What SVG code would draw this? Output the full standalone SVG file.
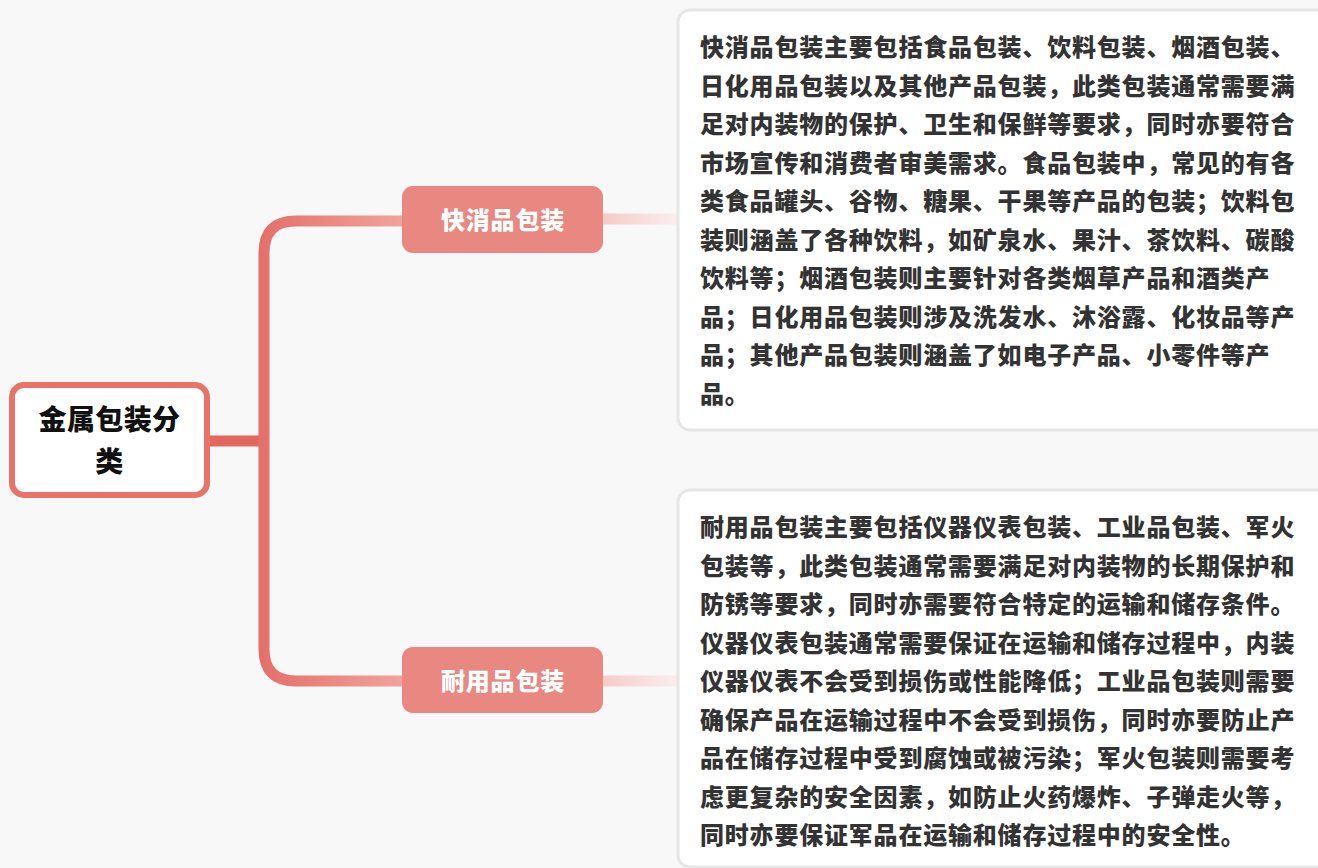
<svg xmlns="http://www.w3.org/2000/svg" width="1318" height="868" viewBox="0 0 1318 868">
<defs>
<linearGradient id="gTrunk" gradientUnits="userSpaceOnUse" x1="262" y1="0" x2="402" y2="0">
<stop offset="0" stop-color="#e5706a"/>
<stop offset="1" stop-color="#f0a39c"/>
</linearGradient>
<linearGradient id="gLeaf" gradientUnits="userSpaceOnUse" x1="603" y1="0" x2="678" y2="0">
<stop offset="0" stop-color="#f6cbc7"/>
<stop offset="1" stop-color="#fbeeed"/>
</linearGradient>
<style>
.t{font-family:"Liberation Sans","Noto Sans CJK SC",sans-serif;font-weight:900}
.root{font-size:28px;fill:#111;letter-spacing:0.4px}
.br{font-size:24px;fill:#fff;letter-spacing:0.8px}
.body{font-size:24px;fill:#333;letter-spacing:0.8px}
.bnode{fill:#e98881}
.card{fill:#fff;stroke:#e6e6e6;stroke-width:3}
</style>
</defs>
<rect width="1318" height="868" fill="#f8f8f8"/>
<g id="connectors" fill="none" stroke-width="11">
<path d="M208,441 H264" stroke="#e2675e"/>
<path d="M402,221 H296 Q264,221 264,253 V649 Q264,681 296,681 H402" stroke="url(#gTrunk)"/>
<path d="M603,219 H678" stroke="url(#gLeaf)"/>
<path d="M603,681 H678" stroke="url(#gLeaf)"/>
</g>
<g id="root">
<rect x="12" y="385" width="195" height="110" rx="12" fill="#fff" stroke="#e8736b" stroke-width="6"/>
<text class="t root" x="109.5" y="430" text-anchor="middle">金属包装分</text>
<text class="t root" x="109.5" y="472" text-anchor="middle">类</text>
</g>
<g id="branch1">
<rect class="bnode" x="402" y="186" width="201" height="67" rx="11"/>
<text class="t br" x="503" y="229" text-anchor="middle">快消品包装</text>
</g>
<g id="branch2">
<rect class="bnode" x="402" y="647" width="201" height="66" rx="11"/>
<text class="t br" x="503" y="690" text-anchor="middle">耐用品包装</text>
</g>
<g id="card1">
<rect class="card" x="678" y="10" width="660" height="420" rx="12"/>
<text class="t body" x="700">
<tspan x="700" y="56">快消品包装主要包括食品包装、饮料包装、烟酒包装、</tspan>
<tspan x="700" y="94.5">日化用品包装以及其他产品包装，此类包装通常需要满</tspan>
<tspan x="700" y="133">足对内装物的保护、卫生和保鲜等要求，同时亦要符合</tspan>
<tspan x="700" y="171.5">市场宣传和消费者审美需求。食品包装中，常见的有各</tspan>
<tspan x="700" y="210">类食品罐头、谷物、糖果、干果等产品的包装；饮料包</tspan>
<tspan x="700" y="248.5">装则涵盖了各种饮料，如矿泉水、果汁、茶饮料、碳酸</tspan>
<tspan x="700" y="287">饮料等；烟酒包装则主要针对各类烟草产品和酒类产</tspan>
<tspan x="700" y="325.5">品；日化用品包装则涉及洗发水、沐浴露、化妆品等产</tspan>
<tspan x="700" y="364">品；其他产品包装则涵盖了如电子产品、小零件等产</tspan>
<tspan x="700" y="402.5">品。</tspan>
</text>
</g>
<g id="card2">
<rect class="card" x="678" y="490" width="660" height="377" rx="12"/>
<text class="t body" x="700">
<tspan x="700" y="536">耐用品包装主要包括仪器仪表包装、工业品包装、军火</tspan>
<tspan x="700" y="574.5">包装等，此类包装通常需要满足对内装物的长期保护和</tspan>
<tspan x="700" y="613">防锈等要求，同时亦需要符合特定的运输和储存条件。</tspan>
<tspan x="700" y="651.5">仪器仪表包装通常需要保证在运输和储存过程中，内装</tspan>
<tspan x="700" y="690">仪器仪表不会受到损伤或性能降低；工业品包装则需要</tspan>
<tspan x="700" y="728.5">确保产品在运输过程中不会受到损伤，同时亦要防止产</tspan>
<tspan x="700" y="767">品在储存过程中受到腐蚀或被污染；军火包装则需要考</tspan>
<tspan x="700" y="805.5">虑更复杂的安全因素，如防止火药爆炸、子弹走火等，</tspan>
<tspan x="700" y="844">同时亦要保证军品在运输和储存过程中的安全性。</tspan>
</text>
</g>
</svg>
